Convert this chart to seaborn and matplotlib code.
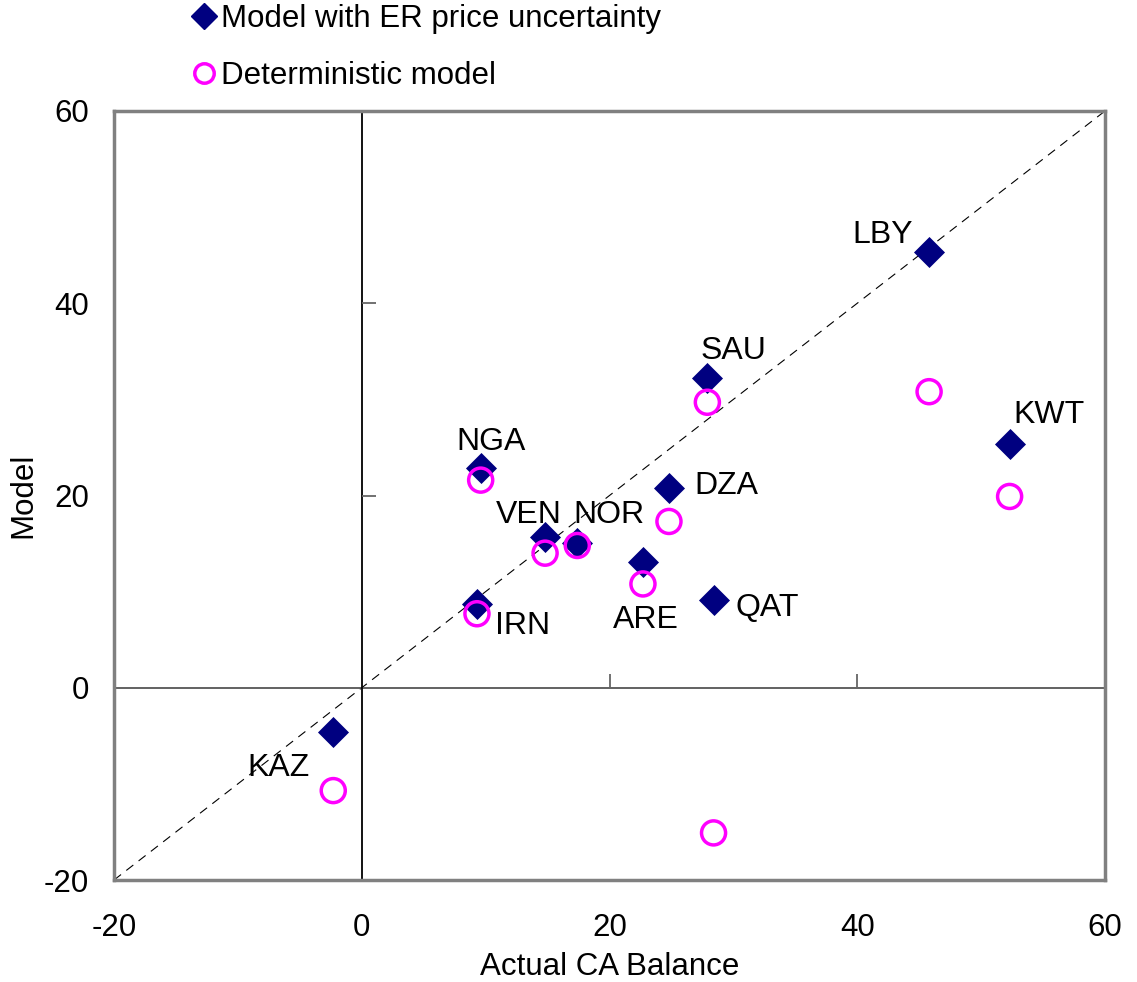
import matplotlib
matplotlib.use("Agg")
import matplotlib.pyplot as plt
import seaborn as sns
import pandas as pd
from matplotlib.lines import Line2D
from matplotlib.markers import TICKUP, TICKRIGHT

countries = ["KAZ", "IRN", "NGA", "VEN", "NOR", "ARE", "DZA", "SAU", "QAT", "LBY", "KWT"]
actual = [-2.3, 9.3, 9.6, 14.8, 17.4, 22.7, 24.8, 27.9, 28.4, 45.8, 52.3]
model_er = [-4.6, 8.7, 22.9, 15.7, 15.1, 13.1, 20.8, 32.2, 9.1, 45.3, 25.4]
model_det = [-10.7, 7.7, 21.6, 14.0, 14.8, 10.8, 17.3, 29.7, -15.1, 30.8, 19.9]
ticks = [-20, 0, 20, 40, 60]

# label offsets (pixels) relative to the ER-model point
label_offsets = {"KAZ": (-55, -36), "IRN": (46, -22), "NGA": (10, 26), "VEN": (-16, 22),
                 "NOR": (32, 28), "ARE": (3, -58), "DZA": (57, 2), "SAU": (26, 27),
                 "QAT": (54, -8), "LBY": (-46, 17), "KWT": (39, 29)}

sns.set_style("white")
plt.rcParams["font.family"] = ["Liberation Sans", "DejaVu Sans"]
plt.rcParams["axes.unicode_minus"] = False
plt.rcParams["text.color"] = "black"
plt.rcParams["axes.labelcolor"] = "black"
plt.rcParams["xtick.color"] = "black"
plt.rcParams["ytick.color"] = "black"

df = pd.DataFrame({"country": countries, "actual": actual,
                   "er": model_er, "det": model_det})

fig = plt.figure(figsize=(11.37, 9.82), dpi=100)
ax = fig.add_axes([114/1137, 1-880/982, (1105-114)/1137, (880-111)/982])

ax.plot([-20, 60], [-20, 60], color="black", lw=0.8, ls=(0, (8, 6)), zorder=1)
ax.axhline(0, color="#555555", lw=1.3, zorder=1)
ax.axvline(0, color="black", lw=1.3, zorder=1)
# small ticks on the zero axes
ax.plot([20, 40], [0, 0], ls="none", marker=TICKUP, ms=10, mew=1.3, color="#666666", zorder=1)
ax.plot([0, 0, 0], [-20, 20, 40], ls="none", marker=TICKRIGHT, ms=10, mew=1.3, color="#666666", zorder=1)

sns.scatterplot(data=df, x="actual", y="er", marker="D", s=250, color="#000080",
                edgecolor="#000080", linewidth=0, ax=ax, zorder=3, legend=False)
sns.scatterplot(data=df, x="actual", y="det", marker="o", s=300, facecolor="none",
                edgecolor="#FF00FF", linewidth=2.5, ax=ax, zorder=4, legend=False)

for c, x, y in zip(countries, actual, model_er):
    dx, dy = label_offsets[c]
    ax.annotate(c, (x, y), xytext=(dx, dy), textcoords="offset pixels",
                ha="center", va="center", fontsize=23, zorder=5)

ax.set_xlim(-20, 60)
ax.set_ylim(-20, 60)
ax.set_xticks(ticks)
ax.set_yticks(ticks)
ax.tick_params(axis="x", length=0, pad=24, labelsize=22.5)
ax.tick_params(axis="y", length=0, pad=18, labelsize=22.5)
ax.set_xlabel("Actual CA Balance", fontsize=22.5, labelpad=6)
ax.set_ylabel("Model", fontsize=22.5, labelpad=4)
for sp in ax.spines.values():
    sp.set_color("#808080")
    sp.set_linewidth(2.5)

handles = [Line2D([], [], ls="none", marker="D", ms=13, color="#000080", mec="#000080"),
           Line2D([], [], ls="none", marker="o", ms=14, mfc="none", mec="#FF00FF", mew=2.5)]
fig.legend(handles, ["Model with ER price uncertainty", "Deterministic model"],
           loc="upper left", bbox_to_anchor=(190/1137, 1-4/982), frameon=False,
           fontsize=22.5, handlelength=0.9, handletextpad=0.1, labelspacing=0.85,
           borderaxespad=0.0, borderpad=0.0)

fig.savefig("out.png", dpi=100)
